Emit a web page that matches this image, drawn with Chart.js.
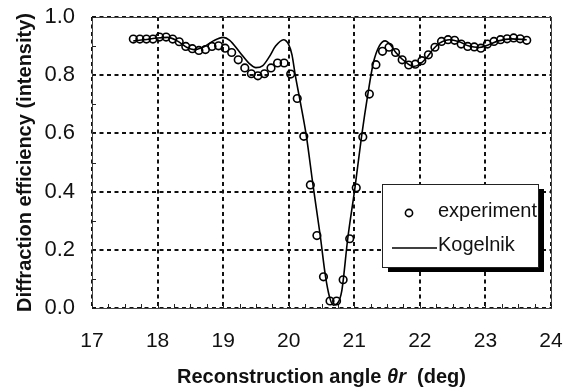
<!DOCTYPE html>
<html><head><meta charset="utf-8">
<script src="https://cdn.jsdelivr.net/npm/chart.js@4/dist/chart.umd.min.js"></script>
<style>html,body{margin:0;padding:0;background:#fff}#wrap{width:569px;height:387px;position:relative}</style>
</head><body><div id="wrap"><canvas id="c" width="569" height="387"></canvas></div>
<script>
// ---- data ----
const expAngles = [17.63,17.73,17.83,17.93,18.03,18.13,18.23,18.33,18.43,18.53,
  18.63,18.73,18.83,18.93,19.03,19.13,19.23,19.33,19.43,19.53,
  19.63,19.73,19.83,19.93,20.03,20.13,20.23,20.33,20.43,20.53,
  20.63,20.73,20.83,20.93,21.03,21.13,21.23,21.33,21.43,21.53,
  21.63,21.73,21.83,21.93,22.03,22.13,22.23,22.33,22.43,22.53,
  22.63,22.73,22.83,22.93,23.03,23.13,23.23,23.33,23.43,23.53,23.63];
const expValues = [0.924,0.924,0.924,0.924,0.931,0.931,0.924,0.915,0.899,0.891,
  0.885,0.888,0.899,0.901,0.893,0.878,0.853,0.825,0.805,0.798,
  0.805,0.825,0.842,0.842,0.804,0.720,0.590,0.423,0.249,0.107,
  0.024,0.024,0.097,0.238,0.413,0.588,0.735,0.836,0.882,0.896,
  0.878,0.853,0.835,0.838,0.850,0.870,0.896,0.916,0.922,0.920,
  0.907,0.899,0.897,0.893,0.907,0.916,0.922,0.925,0.928,0.925,0.920];
const kogAngles = [17.63,17.8,18.0,18.15,18.3,18.45,18.55,18.7,18.85,19.0,
  19.1,19.25,19.4,19.5,19.6,19.7,19.8,19.92,20.0,20.05,
  20.1,20.17,20.27,20.37,20.48,20.56,20.62,20.68,20.74,20.81,
  20.9,21.01,21.11,21.21,21.29,21.38,21.47,21.55,21.64,21.8,
  21.9,22.0,22.1,22.2,22.3,22.45,22.6,22.75,22.9,23.05,23.2,23.4,23.63];
const kogValues = [0.918,0.922,0.928,0.930,0.918,0.895,0.888,0.897,0.918,0.930,
  0.920,0.880,0.840,0.826,0.832,0.862,0.900,0.922,0.905,0.870,
  0.800,0.716,0.590,0.423,0.250,0.110,0.040,0.010,0.015,0.060,
  0.238,0.413,0.588,0.739,0.842,0.900,0.918,0.905,0.876,0.842,
  0.830,0.838,0.859,0.888,0.910,0.922,0.915,0.900,0.895,0.905,0.918,0.925,0.922];
const xTickValues = [17,18,19,20,21,22,23,24];
const yTickValues = [0.0,0.2,0.4,0.6,0.8,1.0];
const seriesNames = ['experiment','Kogelnik'];
const xTitleParts = ['Reconstruction angle ', '\u03B8r', '  (deg)'];
const yTitle = 'Diffraction efficiency (intensity)';

const FONT = '"Liberation Sans", Arial, Helvetica, sans-serif';

const decor = {
  id: 'decor',
  beforeDatasetsDraw(chart) {
    const {ctx, chartArea: a, scales: {x, y}} = chart;
    ctx.save();
    ctx.strokeStyle = '#444';
    ctx.lineWidth = 1;
    ctx.strokeRect(a.left + 0.5, a.top + 0.5, a.right - a.left, a.bottom - a.top);
    ctx.strokeStyle = '#222';
    ctx.beginPath();
    for (let i = 0; i <= 28; i++) {
      const px = Math.round(x.getPixelForValue(17 + i * 0.25)) + 0.5;
      ctx.moveTo(px, a.bottom); ctx.lineTo(px, a.bottom - 4);
    }
    for (let i = 0; i <= 10; i++) {
      const py = Math.round(y.getPixelForValue(i * 0.1)) + 0.5;
      ctx.moveTo(a.left, py); ctx.lineTo(a.left + 4, py);
    }
    ctx.stroke();
    ctx.restore();
  },
  afterDraw(chart) {
    const {ctx, chartArea: a} = chart;
    ctx.save();
    // x-axis title with italic symbol
    const fN = 'bold 20px ' + FONT, fI = 'bold italic 20px ' + FONT;
    ctx.font = fN; const w0 = ctx.measureText(xTitleParts[0]).width;
    const w2 = ctx.measureText(xTitleParts[2]).width;
    ctx.font = fI; const w1 = ctx.measureText(xTitleParts[1]).width;
    let tx = (a.left + a.right) / 2 - (w0 + w1 + w2) / 2;
    const ty = 377;
    ctx.fillStyle = '#111'; ctx.textBaseline = 'middle'; ctx.textAlign = 'left';
    ctx.font = fN; ctx.fillText(xTitleParts[0], tx, ty); tx += w0;
    ctx.font = fI; ctx.fillText(xTitleParts[1], tx, ty); tx += w1;
    ctx.font = fN; ctx.fillText(xTitleParts[2], tx, ty);

    // legend
    const bx = 382, by = 184, bw = 156, bh = 83;
    ctx.fillStyle = '#000';
    ctx.fillRect(bx + 6, by + 5, bw, bh);
    ctx.fillStyle = '#fff';
    ctx.fillRect(bx, by, bw, bh);
    ctx.strokeStyle = '#222';
    ctx.lineWidth = 1;
    ctx.strokeRect(bx + 0.5, by + 0.5, bw, bh);
    ctx.lineWidth = 1.6;
    ctx.strokeStyle = '#000';
    ctx.beginPath(); ctx.arc(409, 213, 3.6, 0, Math.PI * 2); ctx.stroke();
    ctx.lineWidth = 1.4;
    ctx.beginPath(); ctx.moveTo(392, 248); ctx.lineTo(437, 248); ctx.stroke();
    ctx.fillStyle = '#111';
    ctx.font = '20px ' + FONT;
    ctx.fillText(seriesNames[0], 438, 211);
    ctx.fillText(seriesNames[1], 438, 245);
    ctx.restore();
  }
};

new Chart(document.getElementById('c'), {
  type: 'scatter',
  data: {
    datasets: [
      {
        label: seriesNames[1], type: 'line',
        data: kogAngles.map((a, i) => ({x: a, y: kogValues[i]})),
        borderColor: '#000', borderWidth: 1.6, pointRadius: 0,
        cubicInterpolationMode: 'monotone', fill: false
      },
      {
        label: seriesNames[0],
        data: expAngles.map((a, i) => ({x: a, y: expValues[i]})),
        pointRadius: 3.8, pointBorderWidth: 1.6,
        pointBorderColor: '#000', pointBackgroundColor: 'rgba(255,255,255,0)',
        showLine: false
      }
    ]
  },
  options: {
    responsive: false, animation: false, devicePixelRatio: 1,
    layout: {padding: {left: 0, top: 17, right: 18, bottom: 0}},
    plugins: {legend: {display: false}, tooltip: {enabled: false}},
    scales: {
      x: {
        type: 'linear', min: 17, max: 24,
        afterBuildTicks: s => { s.ticks = xTickValues.map(v => ({value: v})); },
        afterFit: s => { s.height = 79; s.paddingLeft = 0; s.paddingRight = 0; },
        ticks: {color: '#111', font: {family: FONT, size: 21}, padding: 21,
          callback: v => String(v)},
        grid: {color: '#111', lineWidth: 2, drawTicks: false},
        border: {display: false, dash: [4, 3.5]},
        title: {display: false}
      },
      y: {
        type: 'linear', min: 0, max: 1,
        afterBuildTicks: s => { s.ticks = yTickValues.map(v => ({value: v})); },
        afterFit: s => { s.width = 92; s.paddingTop = 0; s.paddingBottom = 0; },
        ticks: {color: '#111', font: {family: FONT, size: 22}, padding: 17,
          callback: v => v.toFixed(1)},
        grid: {color: '#111', lineWidth: 2, drawTicks: false},
        border: {display: false, dash: [4, 3.5]},
        title: {display: true, text: yTitle, color: '#111',
          font: {family: FONT, size: 20, weight: 'bold'}, padding: {top: 13, bottom: 0}}
      }
    }
  },
  plugins: [decor]
});
</script>
</body></html>
